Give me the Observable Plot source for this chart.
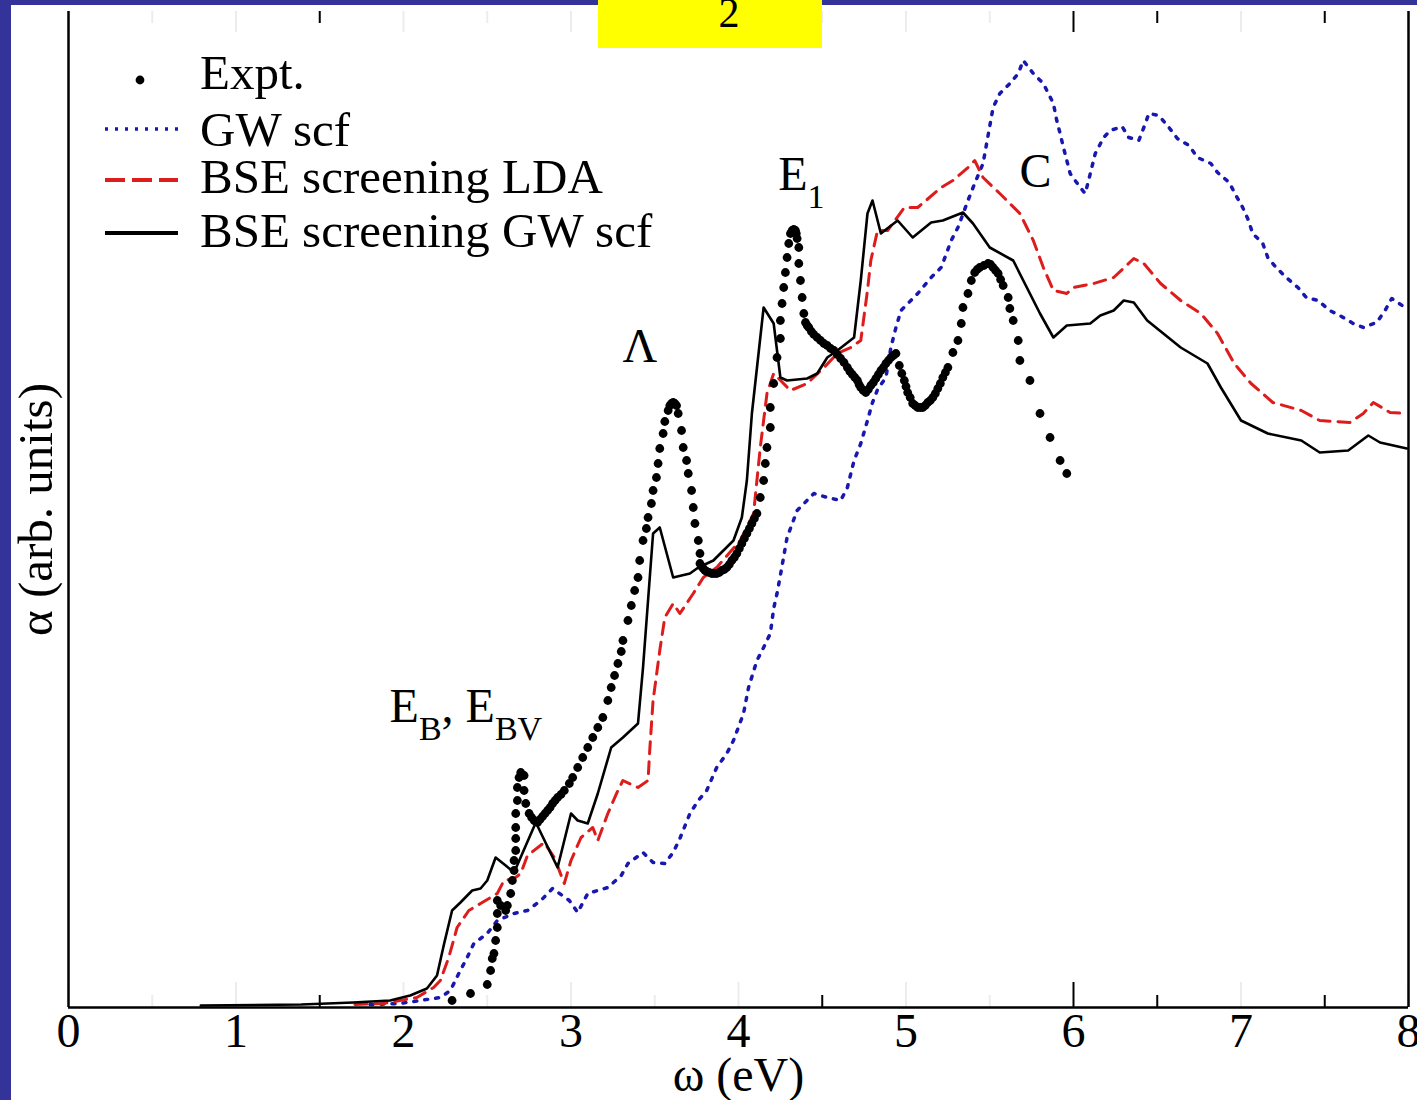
<!DOCTYPE html>
<html>
<head>
<meta charset="utf-8">
<script src="https://cdn.jsdelivr.net/npm/d3@7"></script>
<script src="https://cdn.jsdelivr.net/npm/@observablehq/plot@0.6"></script>
<style>
  html, body { margin: 0; padding: 0; background: #ffffff; }
  #page { position: relative; width: 1417px; height: 1100px; overflow: hidden; background: #ffffff; }
  #chart { position: absolute; left: 0; top: 0; }
  .border { position: absolute; background: #333399; z-index: 2; }
  #badge { position: absolute; left: 598px; top: 0; width: 224px; height: 48px; background: #ffff00; z-index: 3; }
</style>
</head>
<body>
<div id="page">
  <div id="chart"></div>
  <div class="border" style="left:0;top:0;width:11px;height:1100px;"></div>
  <div class="border" style="left:0;top:0;width:1417px;height:5px;"></div>
  <div id="badge"><svg width="224" height="48"><text id="badgeText" x="131" y="27" text-anchor="middle" font-family="Liberation Serif" font-size="42" fill="#000"></text></svg></div>
</div>
<script>
// ---------- data ----------
const badgeLabel = "2";
const xLabel = "ω (eV)";
const yLabel = "α (arb. units)";
const xTickValues = [0, 1, 2, 3, 4, 5, 6, 7, 8];
const xMinorTicks = [0.5, 1.5, 2.5, 3.5, 4.5, 5.5, 6.5, 7.5];
const visibleBottomTicks = [1.5, 4.5, 6, 6.5, 7.5];
const visibleTopTicks = [1.5, 6, 6.5, 7.5];
const legendLabels = ["Expt.", "GW scf", "BSE screening LDA", "BSE screening GW scf"];

// GW scf (blue dotted)
const gwOmega = [1.80,1.98,2.10,2.22,2.28,2.33,2.38,2.42,2.50,2.56,2.66,2.74,2.82,2.89,2.99,3.04,3.10,3.22,3.30,3.34,3.43,3.49,3.56,3.61,3.65,3.71,3.76,3.81,3.87,3.93,3.97,4.03,4.06,4.11,4.15,4.19,4.21,4.23,4.25,4.29,4.35,4.45,4.53,4.61,4.65,4.69,4.73,4.77,4.80,4.83,4.88,4.91,4.94,4.97,5.07,5.15,5.21,5.27,5.31,5.37,5.41,5.46,5.49,5.52,5.56,5.62,5.67,5.70,5.76,5.82,5.88,5.90,5.92,5.94,5.98,6.04,6.07,6.09,6.13,6.18,6.22,6.29,6.33,6.39,6.42,6.45,6.51,6.57,6.62,6.69,6.74,6.82,6.86,6.93,6.97,7.01,7.04,7.07,7.13,7.16,7.21,7.27,7.34,7.39,7.46,7.53,7.59,7.67,7.73,7.81,7.86,7.90,7.98];
const gwAlpha = [0.3,0.4,0.7,1.0,1.7,3.4,5.0,6.4,7.4,8.7,9.4,9.7,10.7,11.9,10.7,9.5,11.4,12.0,13.2,14.4,15.5,14.5,14.4,15.5,16.9,19.4,20.7,21.7,24.0,25.4,26.7,29.4,32.0,34.7,36.0,37.4,39.9,41.4,43.2,47.0,49.7,51.4,51.0,50.7,52.0,54.7,56.4,58.7,60.5,61.8,63.0,66.0,68.0,69.7,71.4,73.0,74.0,76.7,78.0,80.7,82.4,84.4,87.2,90.0,91.4,92.4,93.4,94.7,93.4,92.4,90.4,88.7,87.4,86.0,83.4,82.0,81.4,82.7,85.4,87.0,87.7,88.1,87.0,86.7,88.0,89.4,89.2,88.0,86.9,86.2,85.0,84.4,83.5,82.5,81.2,80.0,78.9,77.4,76.4,75.0,74.0,73.0,72.0,71.0,70.7,69.7,69.2,68.4,68.0,68.5,69.7,70.9,70.0];

// BSE screening LDA (red dashed)
const ldaOmega = [1.71,1.88,2.08,2.18,2.22,2.27,2.32,2.39,2.46,2.56,2.60,2.66,2.70,2.74,2.84,2.90,2.96,3.00,3.06,3.13,3.16,3.22,3.28,3.31,3.40,3.46,3.47,3.49,3.53,3.56,3.61,3.65,3.73,3.79,3.87,4.01,4.09,4.13,4.17,4.21,4.31,4.41,4.51,4.59,4.67,4.73,4.77,4.79,4.83,4.89,4.99,5.07,5.21,5.28,5.37,5.41,5.46,5.56,5.68,5.76,5.82,5.88,5.96,6.00,6.12,6.24,6.36,6.42,6.52,6.64,6.76,6.86,6.96,7.06,7.19,7.36,7.47,7.65,7.73,7.79,7.89,7.99];
const ldaAlpha = [0.3,0.4,1.0,2.0,2.7,5.0,8.0,9.7,10.4,11.4,12.7,12.9,13.4,15.2,16.5,15.0,12.4,14.7,17.0,18.0,16.7,19.4,21.7,22.7,22.0,22.7,25.7,30.7,35.7,39.0,40.4,39.4,41.4,43.0,44.0,46.7,49.4,56.0,61.4,63.4,61.7,62.4,64.0,65.4,66.0,66.7,71.7,74.7,77.7,77.7,80.0,80.0,82.0,82.7,84.0,84.7,83.0,81.4,79.4,76.7,74.0,71.7,71.4,72.0,72.4,73.0,74.9,74.4,72.4,70.7,69.4,67.4,64.4,62.4,60.5,59.7,58.7,58.5,59.4,60.5,59.5,59.4];

// BSE screening GW scf (black solid)
const bseOmega = [0.79,1.39,1.70,1.92,2.04,2.14,2.20,2.24,2.29,2.34,2.41,2.46,2.50,2.55,2.61,2.66,2.79,2.92,3.00,3.04,3.10,3.16,3.24,3.31,3.40,3.43,3.46,3.49,3.53,3.61,3.71,3.76,3.85,3.97,4.02,4.05,4.08,4.15,4.21,4.25,4.29,4.41,4.47,4.53,4.59,4.69,4.73,4.77,4.80,4.85,4.95,5.04,5.15,5.22,5.34,5.40,5.50,5.64,5.80,5.88,5.96,6.10,6.16,6.24,6.30,6.36,6.44,6.64,6.80,6.88,7.00,7.16,7.36,7.47,7.64,7.76,7.83,7.99];
const bseAlpha = [0.2,0.3,0.5,0.7,1.2,1.9,3.2,6.2,9.7,10.5,11.7,11.9,12.7,15.0,14.2,13.5,18.5,14.0,19.4,18.7,18.4,21.4,26.0,27.0,28.4,34.0,40.7,47.4,48.0,43.0,43.4,44.0,44.7,46.7,49.0,52.7,59.4,70.0,68.4,63.0,62.7,62.9,63.4,65.0,65.7,67.0,72.7,79.4,80.7,77.4,78.7,77.0,78.5,78.7,79.5,78.4,76.0,74.7,69.4,67.0,68.2,68.4,69.2,69.7,70.7,70.5,68.7,66.0,64.4,62.0,58.7,57.4,56.7,55.5,55.7,57.2,56.5,55.9];

// Experiment (black dots)
const exptOmega = [2.29,2.40,2.50,2.52,2.53,2.54,2.55,2.56,2.56,2.56,2.58,2.61,2.62,2.64,2.65,2.66,2.66,2.67,2.67,2.67,2.67,2.68,2.68,2.69,2.70,2.72,2.72,2.73,2.75,2.765,2.78,2.79,2.80,2.815,2.83,2.845,2.86,2.875,2.89,2.905,2.92,2.94,2.96,2.99,3.01,3.04,3.07,3.10,3.13,3.16,3.19,3.22,3.24,3.26,3.28,3.30,3.31,3.34,3.36,3.38,3.40,3.41,3.43,3.45,3.46,3.48,3.49,3.51,3.52,3.53,3.55,3.56,3.58,3.59,3.60,3.61,3.62,3.63,3.64,3.66,3.67,3.69,3.70,3.72,3.73,3.74,3.76,3.77,3.77,3.78,3.79,3.80,3.81,3.825,3.84,3.855,3.87,3.885,3.90,3.915,3.93,3.945,3.96,3.975,3.99,4.005,4.02,4.035,4.05,4.065,4.08,4.095,4.11,4.13,4.15,4.16,4.17,4.19,4.19,4.21,4.23,4.25,4.25,4.26,4.27,4.28,4.29,4.30,4.31,4.32,4.33,4.34,4.345,4.35,4.36,4.36,4.37,4.38,4.39,4.40,4.41,4.42,4.435,4.45,4.47,4.49,4.51,4.53,4.55,4.57,4.59,4.61,4.63,4.65,4.665,4.68,4.695,4.71,4.72,4.73,4.745,4.76,4.775,4.79,4.805,4.82,4.835,4.85,4.865,4.88,4.895,4.91,4.925,4.94,4.96,4.975,4.99,5.00,5.01,5.025,5.04,5.055,5.07,5.085,5.10,5.115,5.13,5.145,5.16,5.175,5.19,5.205,5.22,5.235,5.25,5.28,5.31,5.33,5.34,5.37,5.39,5.41,5.425,5.44,5.465,5.49,5.505,5.52,5.535,5.55,5.565,5.58,5.61,5.62,5.64,5.67,5.68,5.74,5.80,5.86,5.92,5.96];
const exptAlpha = [0.7,1.4,2.3,3.7,4.9,5.4,6.7,8.0,9.4,10.7,10.2,9.7,10.2,11.4,12.7,13.7,14.7,15.7,16.9,18.0,19.4,20.7,22.0,23.0,23.5,23.2,21.7,20.4,19.4,19.0,18.7,18.6,18.5,18.8,19.1,19.4,19.7,20.0,20.4,20.7,21.0,21.3,21.7,22.4,23.0,24.0,25.0,26.0,27.0,28.0,29.0,30.7,32.0,33.2,34.4,35.6,36.7,38.7,40.2,41.7,43.0,44.7,46.7,47.9,49.0,50.4,51.7,53.0,54.4,55.9,57.4,58.6,59.7,60.2,60.4,60.5,60.4,60.2,59.4,57.7,56.0,54.7,53.4,51.7,50.0,48.4,46.7,45.4,44.4,44.1,43.9,43.7,43.6,43.5,43.4,43.4,43.4,43.5,43.7,43.8,44.0,44.3,44.7,45.0,45.4,45.9,46.4,46.9,47.4,47.9,48.4,48.9,49.4,51.0,52.7,54.4,56.0,58.0,60.0,62.4,65.0,66.9,68.7,70.4,72.0,73.5,75.0,76.4,77.4,77.7,77.8,77.7,77.4,76.9,76.0,74.4,72.7,71.0,69.4,68.5,68.2,68.0,67.6,67.3,67.0,66.7,66.4,66.2,65.9,65.7,65.3,64.9,64.5,64.0,63.6,63.3,63.0,62.7,62.3,62.0,61.7,61.5,61.8,62.2,62.5,62.9,63.3,63.7,64.0,64.4,64.7,65.0,65.2,65.4,64.2,63.4,62.7,62.1,61.5,61.0,60.4,60.2,60.0,60.0,60.0,60.2,60.5,60.7,61.0,61.4,61.9,62.4,63.0,63.5,64.0,65.5,66.7,68.4,70.0,71.4,72.7,73.5,73.8,74.0,74.2,74.4,74.3,74.0,73.7,73.4,72.8,72.2,71.0,69.9,68.7,66.7,64.7,62.7,59.4,57.0,54.7,53.4];

// Peak labels: [main, subscript, main2, subscript2, ω, α]
const peakLabels = [
  ["Λ", "", "", "", 3.31, 64.5],
  ["E", "1", "", "", 4.24, 81.7],
  ["C", "", "", "", 5.68, 82.0],
  ["E", "B", ", E", "BV", 1.92, 28.5]
];

// ---------- build ----------
const toRows = (xs, ys) => xs.map((x, i) => ({omega: x, alpha: ys[i]}));
const gw = toRows(gwOmega, gwAlpha);
const lda = toRows(ldaOmega, ldaAlpha);
const bse = toRows(bseOmega, bseAlpha);
const expt = toRows(exptOmega, exptAlpha);

const Y_TOP = 99.6;
const BLUE = "#1818b0", RED = "#dd1c1c";
const tickColor = (v, vis) => vis.includes(v) ? "#000" : "#ececec";

const chart = Plot.plot({
  width: 1417,
  height: 1100,
  marginLeft: 68,
  marginRight: 9,
  marginTop: 11,
  marginBottom: 93,
  x: {domain: [0, 8]},
  y: {domain: [0, Y_TOP], axis: null},
  style: {background: "transparent", fontFamily: "Liberation Serif", fontSize: "48px", color: "#000", overflow: "visible"},
  marks: [
    Plot.axisX({ticks: xTickValues, tickSize: 0, tickPadding: 5, tickFormat: d => String(d), label: null, fontSize: 48}),
    // bottom ticks (inward)
    Plot.ruleX(xTickValues, {x: d => d, y1: 0, y2: 2.5, stroke: d => tickColor(d, visibleBottomTicks), strokeWidth: 2}),
    Plot.ruleX(xMinorTicks, {x: d => d, y1: 0, y2: 1.2, stroke: d => tickColor(d, visibleBottomTicks), strokeWidth: 2}),
    // top ticks (inward)
    Plot.ruleX(xTickValues, {x: d => d, y1: Y_TOP, y2: Y_TOP - 2.1, stroke: d => tickColor(d, visibleTopTicks), strokeWidth: 2}),
    Plot.ruleX(xMinorTicks, {x: d => d, y1: Y_TOP, y2: Y_TOP - 1.2, stroke: d => tickColor(d, visibleTopTicks), strokeWidth: 2}),
    // curves
    Plot.line(gw, {x: "omega", y: "alpha", stroke: BLUE, strokeWidth: 3.5, strokeDasharray: "3,8"}),
    Plot.line(lda, {x: "omega", y: "alpha", stroke: RED, strokeWidth: 3, strokeDasharray: "12,8"}),
    Plot.line(bse, {x: "omega", y: "alpha", stroke: "#000", strokeWidth: 2.6}),
    Plot.dot(expt, {x: "omega", y: "alpha", r: 4.4, fill: "#000", stroke: "none"}),
    // frame
    Plot.ruleY([0], {stroke: "#000", strokeWidth: 2.5}),
    Plot.ruleX([0, 8], {y1: 0, y2: Y_TOP, stroke: "#000", strokeWidth: 2.5}),
    // axis labels
    Plot.text([xLabel], {text: d => d, frameAnchor: "bottom", dy: 83, lineAnchor: "bottom", textAnchor: "middle", fontSize: 48}),
    Plot.text([yLabel], {text: d => d, frameAnchor: "left", dx: -32, rotate: -90, textAnchor: "middle", lineAnchor: "middle", fontSize: 49})
  ]
});
document.getElementById("chart").appendChild(chart);
document.getElementById("badgeText").textContent = badgeLabel;

const svg = d3.select(chart);
const sx = chart.scale("x"), sy = chart.scale("y");

// peak annotations
const ann = svg.append("g").attr("font-family", "Liberation Serif").attr("fill", "#000").attr("text-anchor", "start");
peakLabels.forEach(([m1, s1, m2, s2, w, a]) => {
  const t = ann.append("text").attr("x", sx.apply(w)).attr("y", sy.apply(a)).attr("font-size", 48).attr("text-anchor", "start");
  t.append("tspan").text(m1);
  if (s1) t.append("tspan").attr("dy", 18).attr("font-size", 34).text(s1);
  if (m2) t.append("tspan").attr("dy", -18).attr("font-size", 48).text(m2);
  if (s2) t.append("tspan").attr("dy", 18).attr("font-size", 34).text(s2);
});

// legend
const lg = svg.append("g").attr("font-family", "Liberation Serif").attr("font-size", 49).attr("fill", "#000").attr("text-anchor", "start");
const legendBaselines = [89, 146, 193, 247];
const legendSampleY = [80, 129, 180, 233];
lg.append("circle").attr("cx", 140).attr("cy", legendSampleY[0]).attr("r", 4.4).attr("fill", "#000");
lg.append("line").attr("x1", 105).attr("x2", 178).attr("y1", legendSampleY[1]).attr("y2", legendSampleY[1])
  .attr("stroke", BLUE).attr("stroke-width", 3.5).attr("stroke-dasharray", "3,7");
lg.append("line").attr("x1", 105).attr("x2", 178).attr("y1", legendSampleY[2]).attr("y2", legendSampleY[2])
  .attr("stroke", RED).attr("stroke-width", 4).attr("stroke-dasharray", "20,7");
lg.append("line").attr("x1", 105).attr("x2", 178).attr("y1", legendSampleY[3]).attr("y2", legendSampleY[3])
  .attr("stroke", "#000").attr("stroke-width", 4);
legendLabels.forEach((lab, i) => {
  lg.append("text").attr("x", 200).attr("y", legendBaselines[i]).attr("text-anchor", "start").text(lab);
});
</script>
</body>
</html>
